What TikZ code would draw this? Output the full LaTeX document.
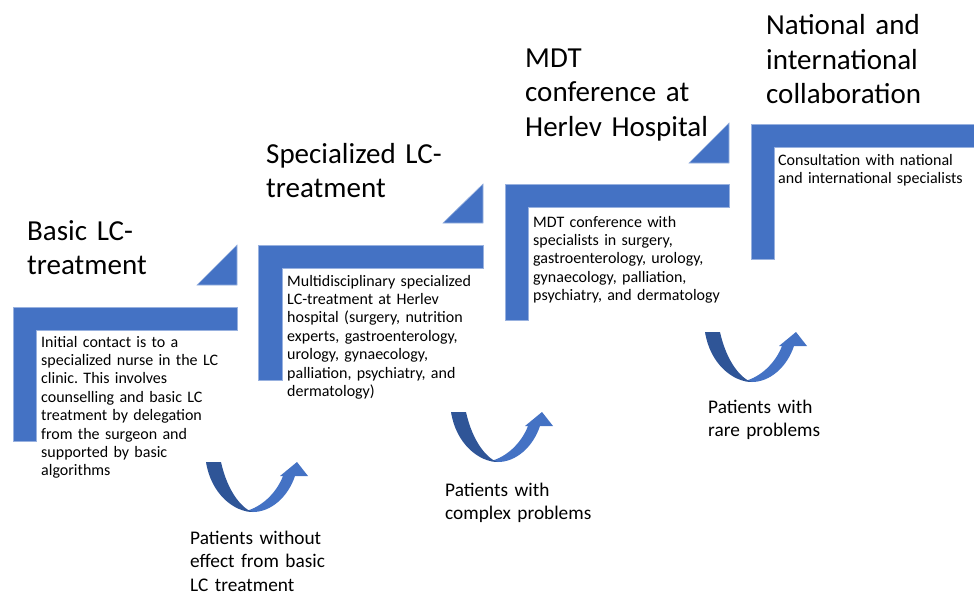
\documentclass[tikz,border=0pt]{standalone}
\usepackage{fontspec}
\setmainfont{Carlito}
\frenchspacing
\definecolor{stepblue}{RGB}{68,114,196}
\definecolor{darkblue}{RGB}{47,85,151}
\tikzset{
  stepshape/.style={fill=stepblue, draw=stepblue!55!white, line width=0.6pt},
  titletext/.style={anchor=base west, inner sep=0pt, text width=230pt, align=left, font=\fontsize{29}{34.5}\selectfont},
  bodytext/.style={anchor=base west, inner sep=0pt, text width=230pt, align=left, font=\fontsize{16}{18.4}\selectfont},
  labeltext/.style={anchor=base west, inner sep=0pt, text width=200pt, align=left, font=\fontsize{19.3}{23.5}\selectfont},
  uturnarrow/.pic={
    \fill[stepblue] (47,50) .. controls (65,50) and (82,35) .. (89,14) -- (102,14) -- (91,0) -- (74,14) -- (77,14) .. controls (70,32) and (55,45) .. (40,49) -- cycle;
    \fill[darkblue] (0,0) -- (15,0) .. controls (22,32) and (38,48) .. (47,50) .. controls (28,50) and (5,32) .. (0,0) -- cycle;
  }
}
\begin{document}
\begin{tikzpicture}[x=1pt,y=-1pt]
\useasboundingbox (0,0) rectangle (974,594);
% steps
\fill[stepshape] (13,307) -- (237,307) -- (237,330) -- (36,330) -- (36,441) -- (13,441) -- cycle;
\fill[stepshape] (197,285) -- (237,285) -- (237,245) -- cycle;
\fill[stepshape] (258,245) -- (483,245) -- (483,268) -- (282,268) -- (282,380) -- (258,380) -- cycle;
\fill[stepshape] (443,223) -- (483,223) -- (483,184) -- cycle;
\fill[stepshape] (505,184) -- (729,184) -- (729,207) -- (528,207) -- (528,320) -- (505,320) -- cycle;
\fill[stepshape] (689,163) -- (729,163) -- (729,123) -- cycle;
\fill[stepshape] (751,124) -- (975,124) -- (975,147) -- (774,147) -- (774,259) -- (751,259) -- cycle;
% titles
\node[titletext] (t1) at (27,240) {Basic LC-\\treatment};
\node[titletext] (t2) at (266,163) {Specialized LC-\\treatment};
\node[titletext] (t3) at (525,67) {MDT\\conference at\\Herlev Hospital};
\node[titletext] (t4) at (766,35) {National and\\international\\collaboration};
% body texts
\node[bodytext] (b1) at (41,347) {Initial contact is to a\\specialized nurse in the LC\\clinic. This involves\\counselling and basic LC\\treatment by delegation\\from the surgeon and\\supported by basic\\algorithms};
\node[bodytext] (b2) at (287,286) {Multidisciplinary specialized\\LC-treatment at Herlev\\hospital (surgery, nutrition\\experts, gastroenterology,\\urology, gynaecology,\\palliation, psychiatry, and\\dermatology)};
\node[bodytext] (b3) at (533,227) {MDT conference with\\specialists in surgery,\\gastroenterology, urology,\\gynaecology, palliation,\\psychiatry, and dermatology};
\node[bodytext] (b4) at (778,165) {Consultation with national\\and international specialists};
% u-turn arrows
\pic at (206,462) {uturnarrow};
\pic at (451,412) {uturnarrow};
\pic at (705,332) {uturnarrow};
% labels
\node[labeltext] (l1) at (190,544) {Patients without\\effect from basic\\LC treatment};
\node[labeltext] (l2) at (445,496) {Patients with\\complex problems};
\node[labeltext] (l3) at (708,413) {Patients with\\rare problems};
\end{tikzpicture}
\end{document}
